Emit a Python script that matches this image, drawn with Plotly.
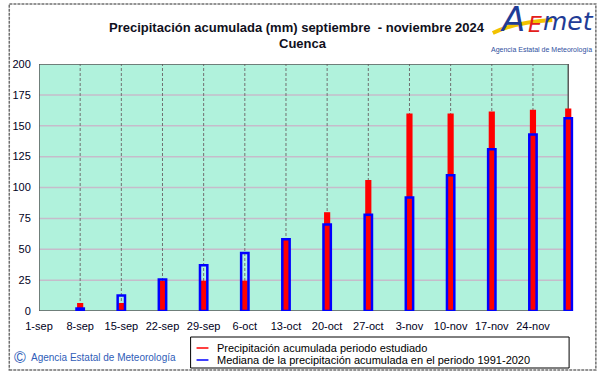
import plotly.graph_objects as go

# ---------------- data ----------------
tick_dates = ['2024-09-01', '2024-09-08', '2024-09-15', '2024-09-22', '2024-09-29',
              '2024-10-06', '2024-10-13', '2024-10-20', '2024-10-27', '2024-11-03',
              '2024-11-10', '2024-11-17', '2024-11-24']
tick_labels = ['1-sep', '8-sep', '15-sep', '22-sep', '29-sep', '6-oct', '13-oct',
               '20-oct', '27-oct', '3-nov', '10-nov', '17-nov', '24-nov']
bar_dates = ['2024-09-08', '2024-09-15', '2024-09-22', '2024-09-29', '2024-10-06',
             '2024-10-13', '2024-10-20', '2024-10-27', '2024-11-03', '2024-11-10',
             '2024-11-17', '2024-11-24', '2024-11-30']
precip_2024 = [6.5, 6.5, 24.5, 24.5, 24.5, 58, 80, 106, 160, 160, 161.5, 163, 164]
median_1991_2020 = [2, 12.5, 25.5, 37, 47, 58, 70, 78, 92, 110, 131, 143, 156]
y_ticks = [0, 25, 50, 75, 100, 125, 150, 175, 200]

title_line1 = 'Precipitación acumulada (mm) septiembre  - noviembre 2024'
title_line2 = 'Cuenca'
legend_names = ['Precipitación acumulada periodo estudiado',
                'Mediana de la precipitación acumulada en el periodo 1991-2020']

# ---------------- layout geometry ----------------
W, H = 601, 374
L, R, T, B = 34, 580, 64, 311          # plot area in pixels
X_START, X_END, X_AXIS_END = '2024-09-01', '2024-11-30', '2024-12-02'
DAY_MS = 86400000
FONT = 'Liberation Sans, Arial, sans-serif'


def px(x):
    return (x - L) / (R - L)


def py(y):
    return (B - y) / (B - T)


fig = go.Figure()
fig.add_trace(go.Bar(x=bar_dates, y=precip_2024, width=1.05 * DAY_MS,
                     marker=dict(color='#FF0000', line=dict(width=0)),
                     name=legend_names[0], showlegend=False))
fig.add_trace(go.Bar(x=bar_dates, y=median_1991_2020, width=1.25 * DAY_MS,
                     marker=dict(color='rgba(0,0,0,0)', line=dict(color='#0000FF', width=2.5)),
                     name=legend_names[1], showlegend=False))

shapes = []
# green plot background (only up to 30-nov)
shapes.append(dict(type='rect', xref='x', yref='y', x0=X_START, x1=X_END, y0=0, y1=200,
                   fillcolor='#B0F2DC', line=dict(width=0), layer='below'))
# horizontal grid
for v in y_ticks[1:-1]:
    shapes.append(dict(type='line', xref='x', yref='y', x0=X_START, x1=X_END, y0=v, y1=v,
                       line=dict(color='#C6BCCB', width=1.5), layer='below'))
# vertical dashed grid
for d in tick_dates[1:]:
    shapes.append(dict(type='line', xref='x', yref='y', x0=d, x1=d, y0=0, y1=200,
                       line=dict(color='#707070', width=1, dash='3px,2px'), layer='below'))
# plot border
shapes.append(dict(type='rect', xref='x', yref='y', x0=X_START, x1=X_END, y0=0, y1=200,
                   line=dict(color='#5A5A5A', width=1.5), layer='below'))
# outer frame
shapes.append(dict(type='rect', xref='paper', yref='paper', x0=px(4), x1=px(596),
                   y0=py(370), y1=py(4), line=dict(color='#707070', width=1.5, dash='3px,1px')))
# legend box and line symbols
shapes.append(dict(type='rect', xref='paper', yref='paper', x0=px(187), x1=px(569),
                   y0=py(368), y1=py(337), line=dict(color='#000000', width=1),
                   fillcolor='white'))
shapes.append(dict(type='line', xref='paper', yref='paper', x0=px(193), x1=px(205),
                   y0=py(348), y1=py(348), line=dict(color='#FF0000', width=1.5)))
shapes.append(dict(type='line', xref='paper', yref='paper', x0=px(193), x1=px(205),
                   y0=py(360), y1=py(360), line=dict(color='#0000FF', width=1.5)))
# logo yellow swoosh
shapes.append(dict(type='path', xref='paper', yref='paper',
                   path='M {},{} Q {},{} {},{}'.format(px(492), py(33), px(515), py(22), px(552), py(20)),
                   line=dict(color='#F2C200', width=4)))

annotations = [
    dict(text='<b>' + title_line1 + '</b>', xref='paper', yref='paper', x=px(294), y=py(27),
         xanchor='center', yanchor='middle', showarrow=False,
         font=dict(family=FONT, size=13, color='#101020')),
    dict(text='<b>' + title_line2 + '</b>', xref='paper', yref='paper', x=px(300), y=py(44),
         xanchor='center', yanchor='middle', showarrow=False,
         font=dict(family=FONT, size=13, color='#101020')),
    dict(text=legend_names[0], xref='paper', yref='paper', x=px(212), y=py(348),
         xanchor='left', yanchor='middle', showarrow=False,
         font=dict(family=FONT, size=11, color='#000000')),
    dict(text=legend_names[1], xref='paper', yref='paper', x=px(212), y=py(360),
         xanchor='left', yanchor='middle', showarrow=False,
         font=dict(family=FONT, size=11, color='#000000')),
    dict(text='©', xref='paper', yref='paper', x=px(15), y=py(357),
         xanchor='center', yanchor='middle', showarrow=False,
         font=dict(family=FONT, size=16, color='#2F5DB8')),
    dict(text='Agencia Estatal de Meteorología', xref='paper', yref='paper', x=px(24), y=py(357),
         xanchor='left', yanchor='middle', showarrow=False,
         font=dict(family=FONT, size=10, color='#2F5DB8')),
    # logo
    dict(text='<i>A</i>', xref='paper', yref='paper', x=px(512), y=py(19),
         xanchor='center', yanchor='middle', showarrow=False,
         font=dict(family='DejaVu Sans', size=34, color='#1F3C96')),
    dict(text='<i>E</i>', xref='paper', yref='paper', x=px(535), y=py(24),
         xanchor='center', yanchor='middle', showarrow=False,
         font=dict(family='DejaVu Sans', size=22, color='#E3201B')),
    dict(text='<i>met</i>', xref='paper', yref='paper', x=px(568), y=py(21),
         xanchor='center', yanchor='middle', showarrow=False,
         font=dict(family='DejaVu Sans', size=25, color='#1F3C96')),
    dict(text='Agencia Estatal de Meteorología', xref='paper', yref='paper', x=px(541), y=py(50),
         xanchor='center', yanchor='middle', showarrow=False,
         font=dict(family=FONT, size=7, color='#3050A0')),
]

fig.update_layout(
    width=W, height=H,
    margin=dict(l=L, r=W - R, t=T, b=H - B, pad=0),
    paper_bgcolor='white', plot_bgcolor='rgba(0,0,0,0)',
    barmode='overlay', showlegend=False,
    shapes=shapes, annotations=annotations,
    font=dict(family=FONT, size=11, color='#000022'),
    xaxis=dict(type='date', range=[X_START, X_AXIS_END], tickvals=tick_dates, ticktext=tick_labels,
               showgrid=False, zeroline=False, showline=False, ticks='outside', ticklen=5,
               tickcolor='rgba(0,0,0,0)', tickfont=dict(family=FONT, size=11, color='#000022'),
               fixedrange=True),
    yaxis=dict(range=[0, 200], tickvals=y_ticks, showgrid=False, zeroline=False, showline=False,
               ticks='outside', ticklen=5, tickcolor='rgba(0,0,0,0)',
               tickfont=dict(family=FONT, size=11, color='#000022'), fixedrange=True),
)

fig.write_html('out.html', config={'displayModeBar': False},
               post_script="document.body.style.margin='0';document.body.style.overflow='hidden';")
